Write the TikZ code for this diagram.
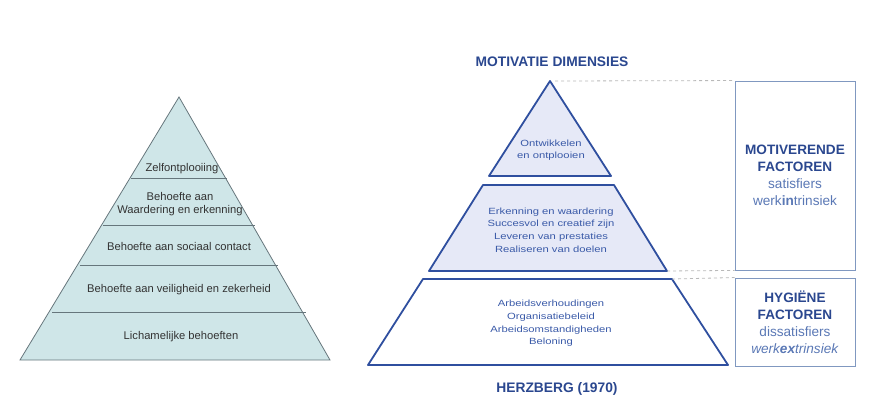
\documentclass[tikz,border=0pt]{standalone}
\usepackage{fontspec}
\setmainfont{Liberation Sans}
\newfontfamily\widefont{Liberation Sans}[FakeStretch=1.25]
\usetikzlibrary{positioning}
\definecolor{tealfill}{HTML}{CFE6E8}
\definecolor{tealedge}{HTML}{66767C}
\definecolor{lavfill}{HTML}{E6E9F7}
\definecolor{hzblue}{HTML}{2F4F9F}
\definecolor{hztext}{HTML}{3A5AA8}
\definecolor{boxedge}{HTML}{8098C0}
\definecolor{subtext}{HTML}{5A78B5}
\tikzset{
  maslow/.style={font=\fontsize{11.2}{13}\selectfont, text=black!80, align=center},
  layer/.style={font=\widefont\fontsize{9}{12.6}\selectfont, text=hztext, align=center},
  heading/.style={font=\bfseries\fontsize{13.8}{15}\selectfont, text=hzblue!90!black},
  factorbox/.style={draw=boxedge, line width=0.9pt, minimum width=120pt, align=center,
    font=\fontsize{13.6}{17}\selectfont, text=subtext},
  guide/.style={dashed, gray!55, line width=0.8pt}
}
\begin{document}
\begin{tikzpicture}[x=1pt, y=-1pt]
    \useasboundingbox (0,0) rectangle (871,420);
    % left pyramid: apex (179,97), base 20..330 at y=360
    \def\apx{179}
    \def\apy{97}
    \fill[tealfill] (\apx,\apy) -- (330,360) -- (20,360) -- cycle;
    % layer boundaries, half-width grows with depth
    \foreach \yy in {178.7, 225.7, 265.3, 312.3} {
        \draw[tealedge, line width=0.8pt] ({\apx-(\yy-\apy)/263*155},\yy) -- ({\apx+(\yy-\apy)/263*155},\yy);
    }
    \draw[tealedge, line width=0.8pt] (\apx,\apy) -- (330,360) -- (20,360) -- cycle;
    \node[maslow] (zelf) at (182,169) {Zelfontplooiing};
    \node[maslow] (waard) at (180,204) {Behoefte aan\\Waardering en erkenning};
    \node[maslow] (sociaal) at (179,246) {Behoefte aan sociaal contact};
    \node[maslow] (veilig) at (179,290) {Behoefte aan veiligheid en zekerheid};
    \node[maslow] (lichaam) at (181,337) {Lichamelijke behoeften};
    % right pyramid (Herzberg): top triangle, middle and bottom trapezoid
    \coordinate (top) at (550,81);
    \coordinate (midbr) at (667,271);
    \coordinate (lowtr) at (672,279);
    \filldraw[fill=lavfill, draw=hzblue, line width=1.8pt, line join=round]
        (top) -- (611,176) -- (489,176) -- cycle;
    \filldraw[fill=lavfill, draw=hzblue, line width=1.8pt, line join=round]
        (483,185) -- (614,185) -- (midbr) -- (429,271) -- cycle;
    \draw[hzblue, line width=1.8pt, line join=round]
        (423,279) -- (lowtr) -- (728,365) -- (368,365) -- cycle;
    \node[layer] (ontw) at (551,150) {Ontwikkelen\\en ontplooien};
    \node[layer] (erk) at (551,230) {Erkenning en waardering\\Succesvol en creatief zijn\\Leveren van prestaties\\Realiseren van doelen};
    \node[layer] (arb) at (551,323.5) {Arbeidsverhoudingen\\Organisatiebeleid\\Arbeidsomstandigheden\\Beloning};
    \node[heading] (dim) at (552,61.5) {MOTIVATIE DIMENSIES};
    \node[heading] (herz) at (557,389) {HERZBERG (1970)};
    % factor boxes on the right
    \node[factorbox, minimum height=189pt] (motiv) at (795,175.5)
        {\textbf{\color{hzblue!90!black}MOTIVERENDE}\\\textbf{\color{hzblue!90!black}FACTOREN}\\satisfiers\\werk\textbf{in}trinsiek};
    \node[factorbox, minimum height=88pt] (hyg) at (795,322)
        {\textbf{\color{hzblue!90!black}HYGIËNE}\\\textbf{\color{hzblue!90!black}FACTOREN}\\dissatisfiers\\\textit{werk\textbf{ex}trinsiek}};
    \draw[guide] ([xshift=5pt]top) -- (motiv.north west);
    \draw[guide] (midbr) -- (motiv.south west);
    \draw[guide] (lowtr) -- (hyg.north west);
\end{tikzpicture}
\end{document}
